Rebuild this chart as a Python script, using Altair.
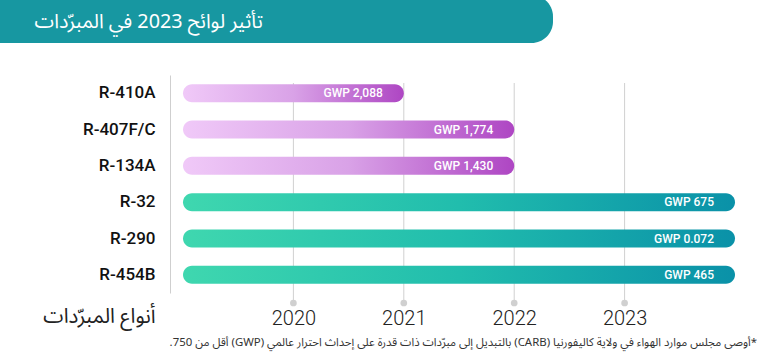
import altair as alt
import pandas as pd

# ---- data ----
refrigerants = ["R-410A", "R-407F/C", "R-134A", "R-32", "R-290", "R-454B"]
groups = ["high", "high", "high", "low", "low", "low"]
end_years = [2021, 2022, 2022, 2024, 2024, 2024]
gwp_labels = ["GWP 2,088", "GWP 1,774", "GWP 1,430", "GWP 675", "GWP 0.072", "GWP 465"]
start_year = 2019
axis_years = [2020, 2021, 2022, 2023]

title_text = "تأثير لوائح 2023 في المبرّدات"
y_title = "أنواع المبرّدات"
footnote = "*أوصى مجلس موارد الهواء في ولاية كاليفورنيا (CARB) بالتبديل إلى مبرّدات ذات قدرة على إحداث احترار عالمي (GWP) أقل من 750."

RLE, PDF = "\u202B", "\u202C"

df = pd.DataFrame({
    "name": refrigerants,
    "group": groups,
    "start": [start_year] * len(refrigerants),
    "end": end_years,
    "label": gwp_labels,
})
years_df = pd.DataFrame({"year": axis_years})

W, H = 580, 218
x_scale = alt.Scale(domain=[2018.8822, 2024.1358], nice=False, zero=False)
y_scale = alt.Scale(domain=refrigerants, paddingInner=0, paddingOuter=0)

purple = alt.Gradient(
    gradient="linear", x1=0, x2=1, y1=0, y2=0,
    stops=[alt.GradientStop(color="#f0c9f8", offset=0),
           alt.GradientStop(color="#d9a2e7", offset=0.5),
           alt.GradientStop(color="#ae46c3", offset=1)],
)
teal = alt.Gradient(
    gradient="linear", x1=0, x2=1, y1=0, y2=0,
    stops=[alt.GradientStop(color="#3fd7af", offset=0),
           alt.GradientStop(color="#21bdad", offset=0.5),
           alt.GradientStop(color="#0a91a8", offset=1)],
)

ARABIC_FONT = "Noto Sans Arabic, DejaVu Sans, sans-serif"

# banner
banner = alt.Chart(alt.Data(values=[{"a": 1}])).mark_rect(
    color="#1797a1", cornerRadiusTopRight=21.5, cornerRadiusBottomRight=21.5
).encode(
    x=alt.value(-180), x2=alt.value(383), y=alt.value(-80), y2=alt.value(-32)
)
banner_text = alt.Chart(alt.Data(values=[{"t": RLE + title_text + PDF}])).mark_text(
    align="right", baseline="middle", fontSize=19.8, color="white",
    font=ARABIC_FONT
).encode(x=alt.value(93), y=alt.value(-53), text="t:N")

# gridlines
grid = alt.Chart(years_df).mark_rule(color="#d0d0d0", strokeWidth=1).encode(
    x=alt.X("year:Q", scale=x_scale),
    y=alt.value(8), y2=alt.value(225),
)
dots = alt.Chart(years_df).mark_point(filled=True, color="#d0d0d0", size=45, opacity=1).encode(
    x=alt.X("year:Q", scale=x_scale),
    y=alt.value(228),
)

x_enc = alt.X(
    "start:Q", scale=x_scale,
    axis=alt.Axis(values=axis_years, format="d", grid=False, ticks=False, domain=False,
                  labelFontSize=20, labelFont="Roboto", labelFontWeight=300,
                  labelColor="#222", labelPadding=15, title=None),
)
y_enc = alt.Y(
    "name:N", scale=y_scale, sort=refrigerants,
    axis=alt.Axis(ticks=False, domain=True, domainColor="#cfcfcf", domainWidth=1,
                  labelFontSize=17, labelFont="Roboto", labelFontWeight=500,
                  labelColor="#111", labelPadding=15,
                  title=y_title, titleAngle=0, titleAlign="right", titleBaseline="middle",
                  titleX=-15, titleY=241, titleFontSize=20.5, titleFontWeight="normal",
                  titleColor="#222", titleFont=ARABIC_FONT),
)

bars_high = alt.Chart(df).transform_filter(alt.datum.group == "high").mark_bar(
    height=18, cornerRadius=9, color=purple
).encode(x=x_enc, x2="end:Q", y=y_enc)
bars_low = alt.Chart(df).transform_filter(alt.datum.group == "low").mark_bar(
    height=18, cornerRadius=9, color=teal
).encode(x=alt.X("start:Q", scale=x_scale), x2="end:Q", y=alt.Y("name:N", scale=y_scale))

bar_labels = alt.Chart(df).mark_text(
    align="right", baseline="middle", dx=-21, fontSize=12, color="white",
    font="Roboto", fontWeight=500
).encode(
    x=alt.X("end:Q", scale=x_scale),
    y=alt.Y("name:N", scale=y_scale),
    text="label:N",
)

foot = alt.Chart(alt.Data(values=[{"t": RLE + footnote + PDF}])).mark_text(
    align="right", baseline="middle", fontSize=11.4, color="#333",
    font=ARABIC_FONT
).encode(x=alt.value(587), y=alt.value(268), text="t:N")

chart = alt.layer(
    banner, banner_text, grid, dots, bars_high, bars_low, bar_labels, foot
).properties(
    width=W, height=H,
    autosize=alt.AutoSizeParams(type="none"),
    padding={"left": 170, "top": 75, "right": 18, "bottom": 62},
).configure_view(stroke=None)

chart.save("out.html", embed_options={"renderer": "svg", "actions": False})
